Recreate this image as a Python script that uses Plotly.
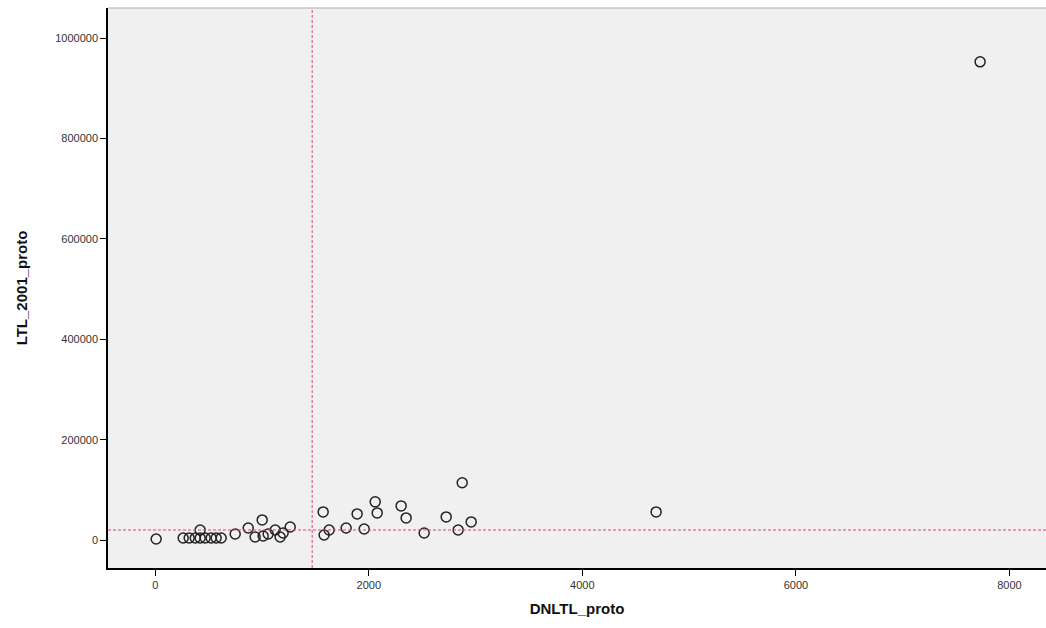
import plotly.graph_objects as go

# Data
dnltl_proto = [9, 262, 318, 375, 421, 468, 524, 571, 618, 421, 749, 871, 1002, 936,
               1011, 1058, 1124, 1170, 1198, 1264, 1573, 1582, 1629, 1788, 1891, 1957,
               2060, 2079, 2303, 2350, 2519, 2725, 2875, 2837, 2959, 4691, 7725]
ltl_2001_proto = [2000, 4000, 4000, 4000, 4000, 4000, 4000, 4000, 4000, 20000, 12000,
                  24000, 40000, 6000, 8000, 12000, 20000, 6000, 14000, 26000, 56000,
                  10000, 20000, 24000, 52000, 22000, 76000, 54000, 68000, 44000, 14000,
                  46000, 114000, 20000, 36000, 56000, 953000]
ref_x = 1470
ref_y = 20000
x_ticks = [0, 2000, 4000, 6000, 8000]
y_ticks = [0, 200000, 400000, 600000, 800000, 1000000]

fig = go.Figure()

fig.add_trace(go.Scatter(
    x=dnltl_proto, y=ltl_2001_proto, mode="markers",
    marker=dict(symbol="circle-open", size=10, color="#222222",
                line=dict(width=1.5, color="#222222")),
    showlegend=False, hoverinfo="x+y"))

fig.update_layout(
    width=1046, height=628,
    margin=dict(l=108, r=0, t=8, b=60),
    paper_bgcolor="white",
    plot_bgcolor="#f0f0f0",
    font=dict(family="Liberation Sans, Arial, sans-serif", color="#333333", size=11),
)

# top border of plot area
fig.add_shape(type="line", xref="paper", yref="paper", x0=0, x1=1, y0=1, y1=1,
              line=dict(color="#aaaaaa", width=1))

ref_color = "#dd4470"
fig.add_vline(x=ref_x, line=dict(color=ref_color, width=1, dash="3px,2px"))
fig.add_hline(y=ref_y, line=dict(color=ref_color, width=1, dash="3px,2px"))

fig.update_xaxes(
    range=[-442, 8342], tickvals=x_ticks, ticktext=[str(v) for v in x_ticks],
    showgrid=False, zeroline=False,
    showline=True, linecolor="black", linewidth=1.5,
    ticks="outside", ticklen=6, tickcolor="black", tickwidth=1,
    tickfont=dict(size=11, color="#333333"),
    title=dict(text="<b>DNLTL_proto</b>", font=dict(size=15, color="#111111"), standoff=14),
)
fig.update_yaxes(
    range=[-55800, 1060300], tickvals=y_ticks, ticktext=[str(v) for v in y_ticks],
    showgrid=False, zeroline=False,
    showline=True, linecolor="black", linewidth=1.5,
    ticks="outside", ticklen=6, tickcolor="black", tickwidth=1,
    tickfont=dict(size=11, color="#333333"),
    title=dict(text="<b>LTL_2001_proto</b>", font=dict(size=15, color="#111111"), standoff=24),
)

fig.write_html("out.html")
